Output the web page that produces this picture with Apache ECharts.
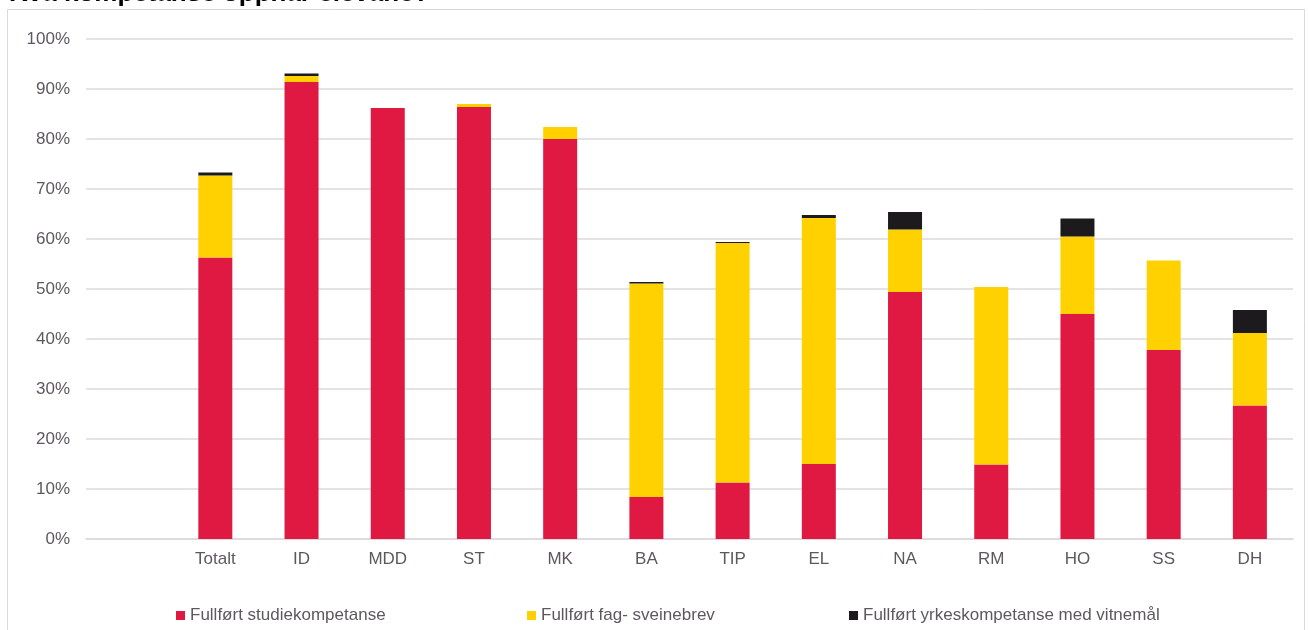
<!DOCTYPE html>
<html>
<head>
<meta charset="utf-8">
<script src="https://cdn.jsdelivr.net/npm/echarts@6/dist/echarts.min.js"></script>
<style>
  html, body { margin: 0; padding: 0; background: #ffffff; }
  #chart { width: 1309px; height: 630px; }
</style>
</head>
<body>
<div id="chart"></div>
<script>
const titleText = 'Kva kompetanse oppnår elevane?';
const categories = ['', 'Totalt', 'ID', 'MDD', 'ST', 'MK', 'BA', 'TIP', 'EL', 'NA', 'RM', 'HO', 'SS', 'DH'];
const seriesNames = ['Fullført studiekompetanse', 'Fullført fag- sveinebrev', 'Fullført yrkeskompetanse med vitnemål'];
const studie = [null, 56.3, 91.4, 86.2, 86.4, 80.0, 8.4, 11.3, 15.0, 49.4, 14.9, 45.0, 37.8, 26.7];
const fag = [null, 16.4, 1.2, 0, 0.6, 2.4, 42.7, 47.9, 49.2, 12.5, 35.5, 15.5, 17.9, 14.5];
const yrke = [null, 0.6, 0.5, 0, 0, 0, 0.3, 0.2, 0.6, 3.5, 0, 3.6, 0, 4.6];
const colors = ['#DF1941', '#FFD100', '#1C1A1D'];

const font = 'Liberation Sans, Arial, sans-serif';
const textColor = '#5f5760';
const gridColor = '#dcd8dc';

const chart = echarts.init(document.getElementById('chart'));
const values = [studie, fag, yrke];
const legendLefts = [171, 522, 844];

chart.setOption({
  animation: false,
  backgroundColor: '#ffffff',
  graphic: [
    {
      type: 'rect',
      shape: { x: 7.5, y: 9.5, width: 1297, height: 640 },
      style: { fill: 'none', stroke: '#d9d9d9', lineWidth: 1 },
      silent: true
    },
    {
      type: 'text',
      left: 9,
      top: -19,
      style: { text: titleText, font: 'bold 26px ' + font, fill: '#000000' },
      silent: true
    }
  ],
  grid: { left: 86, right: 16, top: 39, bottom: 91, containLabel: false },
  legend: seriesNames.map((n, i) => ({
    data: [n],
    left: legendLefts[i],
    top: 602,
    icon: 'rect',
    itemWidth: 9,
    itemHeight: 9,
    textStyle: { color: textColor, fontSize: 17, fontFamily: font },
    selectedMode: false
  })),
  xAxis: {
    type: 'category',
    data: categories,
    axisLine: { show: true, lineStyle: { color: gridColor, width: 1.5 } },
    axisTick: { show: false },
    axisLabel: { color: textColor, fontSize: 17, fontFamily: font, margin: 12, interval: 0 }
  },
  yAxis: {
    type: 'value',
    min: 0,
    max: 100,
    interval: 10,
    axisLine: { show: false },
    axisTick: { show: false },
    splitLine: { lineStyle: { color: gridColor, width: 1.5 } },
    axisLabel: { color: textColor, fontSize: 17, fontFamily: font, margin: 16, formatter: '{value}%' }
  },
  series: seriesNames.map((n, i) => ({
    name: n,
    type: 'bar',
    stack: 'total',
    barWidth: 34,
    data: values[i],
    itemStyle: { color: colors[i] }
  }))
});
</script>
</body>
</html>
